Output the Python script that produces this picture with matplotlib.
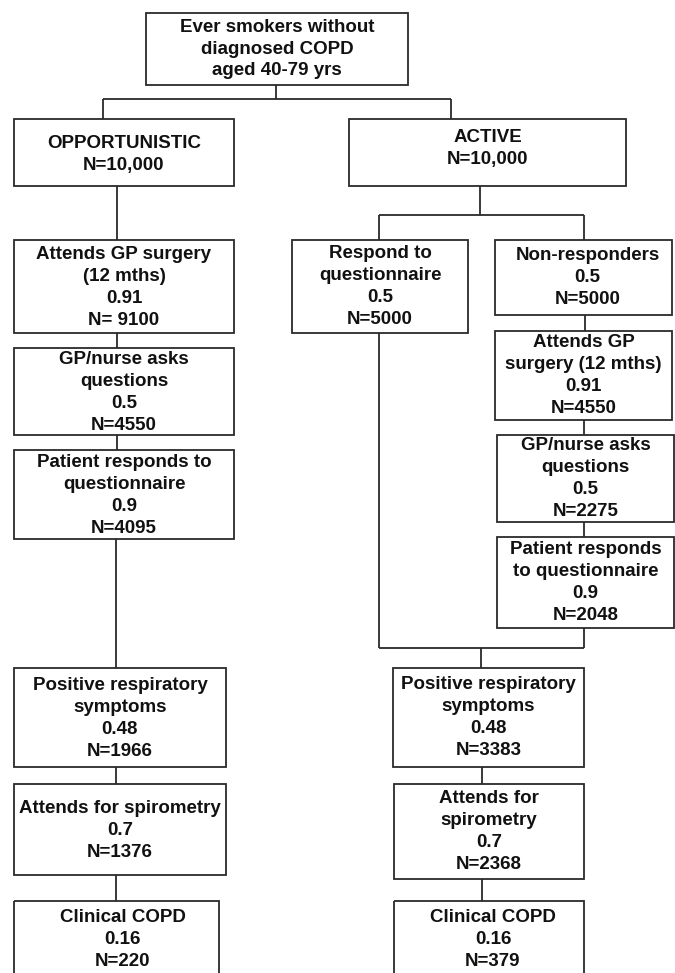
import matplotlib
matplotlib.use('Agg')
import matplotlib.pyplot as plt
from matplotlib.patches import Rectangle

# flowchart content
top_label = "Ever smokers without\ndiagnosed COPD\naged 40-79 yrs"
arm_names = ["OPPORTUNISTIC", "ACTIVE"]
arm_n = ["N=10,000", "N=10,000"]

opp_steps = ["Attends GP surgery\n(12 mths)", "GP/nurse asks\nquestions",
             "Patient responds to\nquestionnaire", "Positive respiratory\nsymptoms",
             "Attends for spirometry", "Clinical COPD"]
opp_prob = ["0.91", "0.5", "0.9", "0.48", "0.7", "0.16"]
opp_n = ["N= 9100", "N=4550", "N=4095", "N=1966", "N=1376", "N=220"]

resp_step = "Respond to\nquestionnaire"
resp_prob = "0.5"
resp_n = "N=5000"

nonresp_steps = ["Non-responders", "Attends GP\nsurgery (12 mths)",
                 "GP/nurse asks\nquestions", "Patient responds\nto questionnaire"]
nonresp_prob = ["0.5", "0.91", "0.5", "0.9"]
nonresp_n = ["N=5000", "N=4550", "N=2275", "N=2048"]

act_steps = ["Positive respiratory\nsymptoms", "Attends for\nspirometry", "Clinical COPD"]
act_prob = ["0.48", "0.7", "0.16"]
act_n = ["N=3383", "N=2368", "N=379"]

# box layout in pixels (x0, x1, y0, y1), y going down
top_box = (146, 408, 13, 85)
arm_boxes = [(14, 234, 119, 186), (349, 626, 119, 186)]
opp_boxes = [(14, 234, 240, 333), (14, 234, 348, 435), (14, 234, 450, 539),
             (14, 226, 668, 767), (14, 226, 784, 875), (14, 219, 901, 990)]
resp_box = (292, 468, 240, 333)
nonresp_boxes = [(495, 672, 240, 315), (495, 672, 331, 420),
                 (497, 674, 435, 522), (497, 674, 537, 628)]
act_boxes = [(393, 584, 668, 767), (394, 584, 784, 879), (394, 584, 901, 990)]

LC = '#2a2a2a'
FONT = ['Liberation Sans', 'DejaVu Sans']

fig = plt.figure(figsize=(6.75, 9.73), dpi=100)
ax = fig.add_axes([0, 0, 1, 1])
ax.set_xlim(0, 675)
ax.set_ylim(973, 0)
ax.axis('off')


def box(b, text, dx=0, dy=0):
    x0, x1, y0, y1 = b
    ax.add_patch(Rectangle((x0, y0), x1 - x0, y1 - y0, fill=False,
                           edgecolor=LC, lw=1.3))
    ycen = (y0 + y1) / 2
    ax.text((x0 + x1) / 2 + dx, ycen + dy, text, ha='center', va='center',
            fontsize=13.5, fontweight='bold', family=FONT, linespacing=1.37,
            color='#111111')


def line(xs, ys):
    ax.plot(xs, ys, color=LC, lw=1.3, solid_capstyle='butt')


box(top_box, top_label)
for b, name, n in zip(arm_boxes, arm_names, arm_n):
    box(b, name + "\n" + n, dy=-4 if name == "ACTIVE" else 2)

for i, b in enumerate(opp_boxes):
    dx = 6 if i == 5 else 0
    box(b, opp_steps[i] + "\n" + opp_prob[i] + "\n" + opp_n[i], dx=dx,
        dy=-6 if i == 5 else 1)

box(resp_box, resp_step + "\n" + resp_prob + "\n" + resp_n)
for i, b in enumerate(nonresp_boxes):
    box(b, nonresp_steps[i] + "\n" + nonresp_prob[i] + "\n" + nonresp_n[i],
        dx=4 if i == 0 else 0)
for i, b in enumerate(act_boxes):
    dx = 4 if i == 2 else 0
    box(b, act_steps[i] + "\n" + act_prob[i] + "\n" + act_n[i], dx=dx,
        dy=-6 if i == 2 else 0)

# connectors
line([276, 276], [85, 99])
line([103, 451], [99, 99])
line([103, 103], [99, 119])
line([451, 451], [99, 119])

line([117, 117], [186, 240])
line([117, 117], [333, 348])
line([117, 117], [435, 450])
line([116, 116], [539, 668])
line([116, 116], [767, 784])
line([116, 116], [875, 901])

line([480, 480], [186, 215])
line([379, 584], [215, 215])
line([379, 379], [215, 240])
line([584, 584], [215, 240])
line([585, 585], [315, 331])
line([584, 584], [420, 435])
line([584, 584], [522, 537])
line([379, 379], [333, 648])
line([584, 584], [628, 648])
line([379, 584], [648, 648])
line([481, 481], [648, 668])
line([482, 482], [767, 784])
line([482, 482], [879, 901])

fig.savefig('out.png', dpi=100, facecolor='white')
